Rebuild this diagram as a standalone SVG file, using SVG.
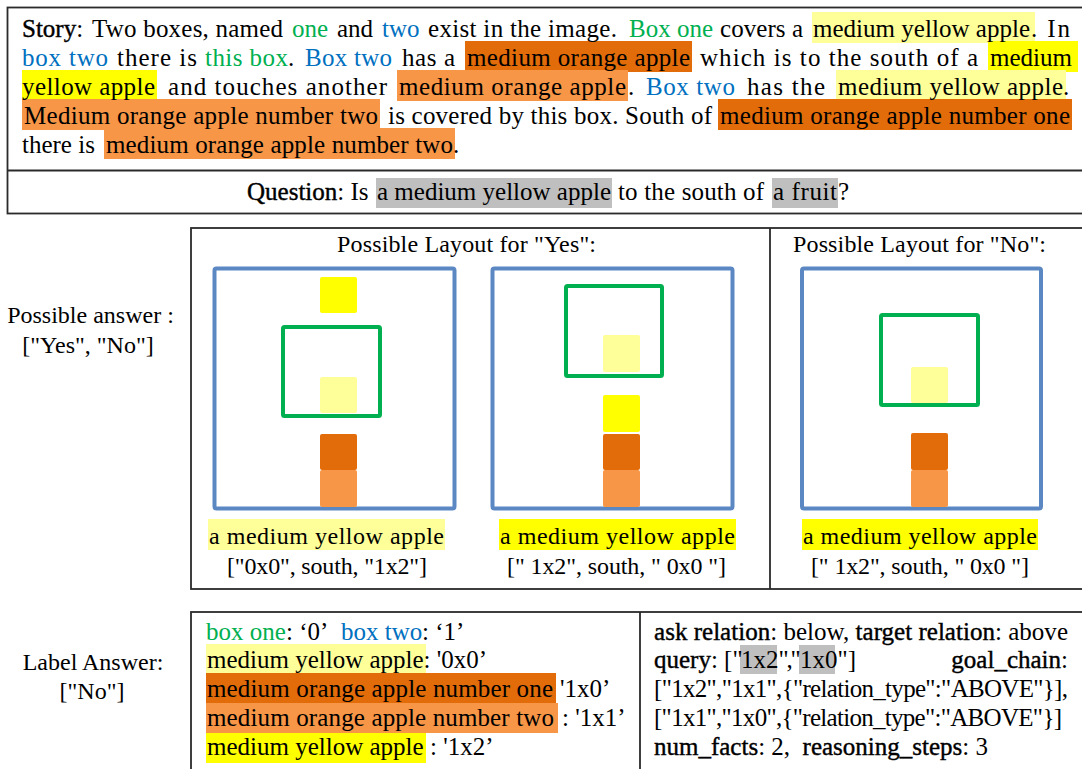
<svg xmlns="http://www.w3.org/2000/svg" width="1082" height="769" viewBox="0 0 1082 769">
  <style>
    text { font-family: "Liberation Serif", "Times New Roman", serif; font-size: 25px; fill: #000; }
    .m { font-size: 24px; }
    .k { stroke: #000; stroke-width: 0.4px; }
    .g { fill: #00B050; }
    .b { fill: #0070C0; }
    .tight { letter-spacing: -2.2px; }
    .hly { fill: #FFFF99; }
    .hy { fill: #FFFF00; }
    .hdo { fill: #E36C0A; }
    .ho { fill: #F79646; }
    .hg { fill: #BFBFBF; }
    .frame { fill: none; stroke: #2a2a2a; stroke-width: 1.8; }
    .bbox { fill: none; stroke: #5B87C3; stroke-width: 4; }
    .gbox { fill: none; stroke: #00B050; stroke-width: 4; }
  </style>

  <!-- story -->
  <g id="story">
    <rect class="frame" x="7.5" y="7.5" width="1080" height="206"/>
    <!-- highlights -->
    <rect class="hly" x="812" y="12" width="223" height="31"/>
    <rect class="hdo" x="465" y="41" width="227" height="31"/>
    <rect class="hy" x="988" y="41" width="90" height="31"/>
    <rect class="hy" x="22" y="70" width="135" height="31"/>
    <rect class="ho" x="397" y="70" width="231" height="31"/>
    <rect class="hly" x="836" y="70" width="230" height="31"/>
    <rect class="ho" x="22" y="99" width="358" height="31"/>
    <rect class="hdo" x="718" y="99" width="354" height="31"/>
    <rect class="ho" x="104" y="128" width="351" height="31"/>

    <!-- line 1 -->
    <text x="22" y="37"><tspan class="k">Story</tspan>:</text>
    <text x="92" y="37" textLength="191" lengthAdjust="spacing">Two boxes, named</text>
    <text class="g" x="292" y="37">one</text>
    <text x="337" y="37">and</text>
    <text class="b" x="382" y="37">two</text>
    <text x="428" y="37" textLength="189" lengthAdjust="spacing">exist in the image.</text>
    <text class="g" x="629" y="37" textLength="84" lengthAdjust="spacing">Box one</text>
    <text x="720" y="37" textLength="83" lengthAdjust="spacing">covers a</text>
    <text x="813" y="37" textLength="217" lengthAdjust="spacing">medium yellow apple</text>
    <text x="1031" y="37" textLength="39" lengthAdjust="spacing">. In</text>

    <!-- line 2 -->
    <text class="b" x="22" y="66" textLength="86" lengthAdjust="spacing">box two</text>
    <text x="117" y="66" textLength="80" lengthAdjust="spacing">there is</text>
    <text class="g" x="205" y="66" textLength="83" lengthAdjust="spacing">this box</text>
    <text x="288" y="66">.</text>
    <text class="b" x="305" y="66" textLength="87" lengthAdjust="spacing">Box two</text>
    <text x="402" y="66" textLength="53" lengthAdjust="spacing">has a</text>
    <text x="467" y="66" textLength="223" lengthAdjust="spacing">medium orange apple</text>
    <text x="700" y="66" textLength="278" lengthAdjust="spacing">which is to the south of a</text>
    <text x="990" y="66" textLength="82" lengthAdjust="spacing">medium</text>

    <!-- line 3 -->
    <text x="22" y="95" textLength="133" lengthAdjust="spacing">yellow apple</text>
    <text x="168" y="95" textLength="219" lengthAdjust="spacing">and touches another</text>
    <text x="399" y="95" textLength="227" lengthAdjust="spacing">medium orange apple</text>
    <text x="628" y="95">.</text>
    <text class="b" x="646" y="95" textLength="89" lengthAdjust="spacing">Box two</text>
    <text x="747" y="95" textLength="78" lengthAdjust="spacing">has the</text>
    <text x="838" y="95" textLength="225" lengthAdjust="spacing">medium yellow apple</text>
    <text x="1063" y="95">.</text>

    <!-- line 4 -->
    <text x="24" y="124" textLength="354" lengthAdjust="spacing">Medium orange apple number two</text>
    <text x="388" y="124" textLength="324" lengthAdjust="spacing">is covered by this box. South of</text>
    <text x="720" y="124" textLength="350" lengthAdjust="spacing">medium orange apple number one</text>

    <!-- line 5 -->
    <text x="22" y="153">there is</text>
    <text x="106" y="153" textLength="347" lengthAdjust="spacing">medium orange apple number two</text>
    <text x="453" y="153">.</text>
  </g>

  <!-- question -->
  <g id="question">
    <line class="frame" x1="7" y1="170.5" x2="1082" y2="170.5"/>
    <rect class="hg" x="376" y="178" width="236" height="30"/>
    <rect class="hg" x="772" y="178" width="66" height="30"/>
    <text x="247" y="200"><tspan class="k">Question</tspan>: Is</text>
    <text x="377" y="200" textLength="234" lengthAdjust="spacing">a medium yellow apple</text>
    <text x="618" y="200" textLength="146" lengthAdjust="spacing">to the south of</text>
    <text x="773" y="200" textLength="64" lengthAdjust="spacing">a fruit</text>
    <text x="838" y="200">?</text>
  </g>

  <!-- possible answers -->
  <g id="possible-answer">
    <text class="m" x="90.5" y="323" text-anchor="middle">Possible answer :</text>
    <text class="m" x="88" y="353" text-anchor="middle">["Yes", "No"]</text>
  </g>

  <g id="layouts">
    <rect class="frame" x="191" y="228" width="900" height="361"/>
    <line class="frame" x1="770" y1="228" x2="770" y2="589"/>
    <text class="m" x="337" y="252" textLength="259" lengthAdjust="spacing">Possible Layout for "Yes":</text>
    <text class="m" x="793" y="252" textLength="253" lengthAdjust="spacing">Possible Layout for "No":</text>
  </g>

  <!-- layout: yes, first -->
  <g id="layout-yes-1">
    <rect class="bbox" x="214.5" y="268.5" width="240" height="240" rx="2"/>
    <rect class="hy" x="320" y="277" width="37" height="36" rx="2"/>
    <rect class="hly" x="320" y="377" width="37" height="36" rx="2"/>
    <rect class="hdo" x="320" y="434" width="37" height="36" rx="2"/>
    <rect class="ho" x="320" y="470" width="37" height="37" rx="2"/>
    <rect class="gbox" x="283" y="327" width="97" height="89" rx="1.5"/>
    <rect class="hly" x="208" y="519" width="237" height="31"/>
    <text class="m" x="209" y="544" textLength="235" lengthAdjust="spacing">a medium yellow apple</text>
    <text class="m" x="227" y="574" textLength="200" lengthAdjust="spacing">["0x0", south, "1x2"]</text>
  </g>

  <!-- layout: yes, second -->
  <g id="layout-yes-2">
    <rect class="bbox" x="492.5" y="268.5" width="240" height="240" rx="2"/>
    <rect class="hly" x="603" y="335" width="37" height="37" rx="2"/>
    <rect class="hy" x="603" y="395" width="37" height="37" rx="2"/>
    <rect class="hdo" x="603" y="434" width="37" height="36" rx="2"/>
    <rect class="ho" x="603" y="470" width="37" height="37" rx="2"/>
    <rect class="gbox" x="566" y="286" width="96" height="90" rx="1.5"/>
    <rect class="hy" x="499" y="519" width="237" height="31"/>
    <text class="m" x="500" y="544" textLength="235" lengthAdjust="spacing">a medium yellow apple</text>
    <text class="m" x="507" y="574" textLength="219" lengthAdjust="spacing">[" 1x2", south, " 0x0 "]</text>
  </g>

  <!-- layout: no -->
  <g id="layout-no">
    <rect class="bbox" x="802" y="268.5" width="239" height="240" rx="2"/>
    <rect class="hly" x="911" y="367" width="37" height="36" rx="2"/>
    <rect class="hdo" x="911" y="433" width="37" height="37" rx="2"/>
    <rect class="ho" x="911" y="470" width="37" height="37" rx="2"/>
    <rect class="gbox" x="881" y="315" width="97" height="90" rx="1.5"/>
    <rect class="hy" x="802" y="519" width="236" height="31"/>
    <text class="m" x="803" y="544" textLength="234" lengthAdjust="spacing">a medium yellow apple</text>
    <text class="m" x="811" y="574" textLength="218" lengthAdjust="spacing">[" 1x2", south, " 0x0 "]</text>
  </g>

  <!-- label answer -->
  <g id="label-answer">
    <text class="m" x="93" y="670" text-anchor="middle">Label Answer:</text>
    <text class="m" x="92" y="699" text-anchor="middle">["No"]</text>
  </g>

  <g id="label-panel">
    <rect class="frame" x="191" y="612" width="900" height="200"/>
    <line class="frame" x1="640" y1="612" x2="640" y2="769"/>
  </g>

  <!-- identifiers -->
  <g id="ids">
    <text class="g" x="206" y="640">box one</text>
    <text x="286" y="640">: ‘0’</text>
    <text class="b" x="341" y="640">box two</text>
    <text x="422" y="640">: ‘1’</text>

    <rect class="hly" x="206" y="644" width="220" height="29"/>
    <text x="207" y="668">medium yellow apple: '0x0’</text>

    <rect class="hdo" x="206" y="673" width="350" height="30"/>
    <text x="207" y="697" textLength="346" lengthAdjust="spacing">medium orange apple number one</text>
    <text x="560" y="697">'1x0’</text>

    <rect class="ho" x="206" y="703" width="352" height="30"/>
    <text x="207" y="726" textLength="347" lengthAdjust="spacing">medium orange apple number two</text>
    <text x="562" y="726">: '1x1’</text>

    <rect class="hy" x="206" y="733" width="220" height="30"/>
    <text x="207" y="755">medium yellow apple</text>
    <text x="430" y="755">: '1x2’</text>
  </g>

  <!-- query details -->
  <g id="query">
    <text x="654" y="640" textLength="414" lengthAdjust="spacing"><tspan class="k">ask relation</tspan>: below, <tspan class="k">target relation</tspan>: above</text>

    <rect class="hg" x="740" y="645" width="37" height="29"/>
    <rect class="hg" x="799" y="645" width="36" height="29"/>
    <text x="654" y="668"><tspan class="k">query</tspan>: ["<tspan x="741">1x2</tspan><tspan class="tight">","</tspan><tspan x="800">1x0</tspan>"]</text>
    <text x="1068" y="668" text-anchor="end"><tspan class="k">goal_chain</tspan>:</text>

    <text x="654" y="697" textLength="414" lengthAdjust="spacing">["1x2","1x1",{"relation_type":"ABOVE"}],</text>
    <text x="654" y="726" textLength="408" lengthAdjust="spacing">["1x1","1x0",{"relation_type":"ABOVE"}]</text>
    <text x="654" y="755"><tspan class="k">num_facts</tspan>: 2,&#160; <tspan class="k">reasoning_steps</tspan>: 3</text>
  </g>
</svg>
